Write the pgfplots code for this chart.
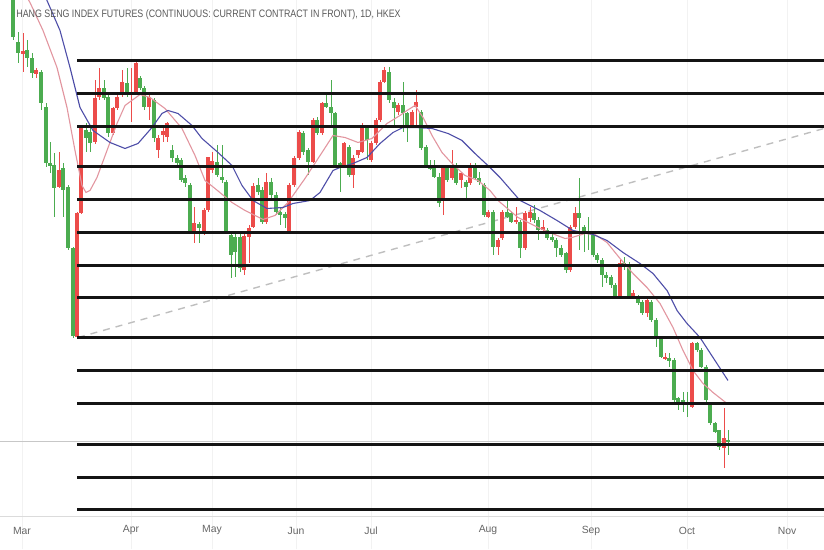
\documentclass[border=0pt]{standalone}
\usepackage{pgfplots}
\pgfplotsset{compat=1.18}
\usepackage{pgfplotstable}
\usepackage{fontspec}
\setmainfont{Liberation Sans}
\definecolor{cup}{RGB}{236,76,74}
\definecolor{cdn}{RGB}{76,172,80}
\definecolor{mapink}{RGB}{226,150,160}
\definecolor{mablue}{RGB}{78,78,168}

% candles in chart pixel units (y grows downward): x open high low close
\pgfplotstableread{
x o h l c
13 -5 -10 40 37
18 42 32 63 53
23 54 33 72 51
27 50 40 67 58
32 58 53 78 73
36 74 68 78 70
41 72 70 110 103
46 107 103 167 163
50 163 142 173 166
54 165 153 217 188
59 187 152 188 170
63 168 163 217 190
68 187 185 250 248
73 248 247 338 336
77 337 212 339 213
81 213 126 214 127
86 130 123 152 138
90 132 127 152 143
95 142 80 144 98
99 97 68 100 88
104 88 80 100 98
108 97 95 137 133
113 133 107 135 108
117 108 93 110 97
122 93 70 97 82
127 83 68 97 95
131 94 68 122 92
136 93 62 94 63
140 78 76 90 88
144 88 86 110 107
149 107 95 120 97
154 100 98 142 138
158 150 135 158 138
163 135 127 142 131
167 137 122 142 123
172 150 145 162 158
177 158 155 167 163
181 160 158 182 180
185 178 175 187 183
190 185 183 234 232
194 233 207 243 223
199 224 222 243 228
204 233 208 235 210
208 210 157 212 157
212 170 152 173 161
217 162 145 177 175
222 177 145 183 180
226 182 180 233 231
231 235 232 278 255
235 237 233 277 252
240 237 233 272 268
244 270 233 275 236
249 237 225 263 228
253 227 183 228 186
258 185 178 195 192
262 190 187 224 222
266 222 173 224 182
271 182 178 198 195
276 195 192 215 212
280 212 208 225 215
285 214 212 228 218
289 232 183 233 185
294 185 156 187 158
299 158 130 160 132
303 133 131 155 152
308 150 148 175 162
313 162 118 163 120
317 120 117 135 133
322 133 102 135 103
326 103 95 108 107
331 107 80 127 113
335 113 112 167 165
340 163 162 192 165
344 165 142 167 143
349 147 145 177 175
353 175 155 188 158
358 155 150 158 150
362 152 123 153 125
367 127 125 160 140
371 160 141 162 143
376 143 118 145 120
380 120 80 122 82
384 82 67 83 70
389 72 67 103 100
394 102 98 127 108
398 112 103 115 105
403 105 82 132 113
407 113 112 142 127
412 125 110 127 112
416 107 90 127 102
421 112 110 150 148
426 147 145 168 167
430 167 160 170 168
434 167 160 178 177
439 177 173 207 203
443 200 165 215 167
447 168 167 182 180
452 178 150 180 165
456 165 163 185 183
461 180 172 188 173
466 182 180 198 187
470 183 163 185 165
475 165 163 180 178
479 178 172 185 182
484 185 183 217 215
488 217 210 218 212
493 212 210 255 247
498 247 238 255 240
502 238 210 240 212
507 212 200 218 217
511 213 212 223 222
516 222 207 224 220
520 222 220 258 248
525 248 211 250 213
530 218 207 222 212
534 213 205 223 220
538 220 217 240 230
543 230 220 232 227
547 230 228 240 238
552 237 233 242 240
556 240 238 257 248
561 248 245 257 255
566 253 252 273 270
570 270 225 272 227
575 227 207 229 213
579 213 178 250 218
584 227 225 252 232
588 232 217 250 234
593 235 232 257 255
597 255 253 263 260
602 260 258 287 275
606 275 272 283 278
611 277 275 288 285
615 285 283 298 297
620 297 260 298 263
624 263 257 270 266
629 265 262 298 297
633 297 290 298 293
638 297 295 305 303
642 302 300 315 313
647 313 298 317 300
651 302 300 322 320
656 320 318 347 337
661 338 337 358 357
665 358 353 360 357
669 358 353 367 361
674 360 358 403 400
678 398 397 410 402
683 400 392 412 403
687 402 392 417 405
692 407 342 408 343
697 343 342 352 350
701 350 348 368 367
706 367 365 403 400
710 403 402 425 423
715 423 422 433 432
719 430 430 450 447
724 448 408 468 438
728 440 430 455 442
}\candles

\pgfplotstableread{
x y
24 -8
30 2
43 30
57 67
67 107
75 150
82 185
86 192
90 190
97 177
107 150
117 123
125 105
140 94
150 97
165 108
182 128
195 155
205 180
215 188
232 202
245 210
263 219
275 215
288 202
305 178
322 152
333 135
345 137
358 142
372 138
387 123
400 115
407 110
415 105
423 117
432 135
442 152
452 163
465 175
478 180
490 190
498 200
518 217
538 227
552 233
565 238
572 237
585 233
595 234
607 242
620 258
633 273
647 287
660 303
673 327
683 350
693 370
703 383
713 392
727 403
}\mapink

\pgfplotstableread{
x y
44 -6
47 0
60 30
70 67
80 107
93 130
110 142
125 148
138 143
152 127
162 113
168 110
178 113
192 125
202 138
218 152
232 165
242 185
253 200
267 208
283 207
293 203
310 200
320 192
333 170
340 167
353 163
367 157
380 143
393 132
403 127
415 127
432 128
448 133
462 140
475 153
490 167
500 177
520 200
540 210
557 220
573 230
593 234
607 240
623 252
640 263
653 273
667 290
677 310
687 323
700 337
713 357
728 380
}\mablue

\begin{document}
\begin{tikzpicture}
\begin{axis}[
  scale only axis, width=412pt, height=274.5pt,
  xmin=0, xmax=824, ymin=-549, ymax=0,
  axis line style={draw=none},
  ytick=\empty,
  xtick={22,131,212,296,371,488,591,687,787},
  xticklabels={Mar,Apr,May,Jun,Jul,Aug,Sep,Oct,Nov},
  major tick length=0pt,
  xmajorgrids, grid style={black!5, line width=0.5pt},
  xticklabel style={anchor=center, yshift=9.5pt, font=\fontsize{5.2}{6}\selectfont, text=black!60},
  clip=true,
]
% faint separators
\addplot[black!14, line width=0.5pt, forget plot] coordinates {(0,-516) (824,-516)};
\addplot[black!22, line width=0.5pt, forget plot] coordinates {(0,-441) (824,-441)};
% trend line
\addplot[black!25, line width=0.7pt, dash pattern=on 3.5pt off 3pt, forget plot] coordinates {(78,-337) (824,-128)};

% wicks
\addplot[draw=none, mark=none, forget plot,
  restrict expr to domain={\thisrow{o}-\thisrow{c}}{0:1000},
  error bars/.cd, y dir=both, y explicit, error mark=none,
  error bar style={line width=0.5pt, cup}]
  table[x=x, y expr={-(\thisrow{h}+\thisrow{l})/2}, y error expr={(\thisrow{l}-\thisrow{h})/2}] {\candles};
\addplot[draw=none, mark=none, forget plot,
  restrict expr to domain={\thisrow{o}-\thisrow{c}}{-1000:-0.001},
  error bars/.cd, y dir=both, y explicit, error mark=none,
  error bar style={line width=0.5pt, cdn}]
  table[x=x, y expr={-(\thisrow{h}+\thisrow{l})/2}, y error expr={(\thisrow{l}-\thisrow{h})/2}] {\candles};
% bodies
\addplot[draw=none, mark=none, forget plot,
  restrict expr to domain={\thisrow{o}-\thisrow{c}}{0:1000},
  error bars/.cd, y dir=both, y explicit, error mark=none,
  error bar style={line width=1.8pt, cup}]
  table[x=x, y expr={-(\thisrow{o}+\thisrow{c})/2}, y error expr={max(abs(\thisrow{o}-\thisrow{c})/2,0.7)}] {\candles};
\addplot[draw=none, mark=none, forget plot,
  restrict expr to domain={\thisrow{o}-\thisrow{c}}{-1000:-0.001},
  error bars/.cd, y dir=both, y explicit, error mark=none,
  error bar style={line width=1.8pt, cdn}]
  table[x=x, y expr={-(\thisrow{o}+\thisrow{c})/2}, y error expr={max(abs(\thisrow{o}-\thisrow{c})/2,0.7)}] {\candles};

% moving averages
\addplot[mapink, line width=0.55pt, forget plot] table[x=x, y expr={-\thisrow{y}}] {\mapink};
\addplot[mablue, line width=0.55pt, forget plot] table[x=x, y expr={-\thisrow{y}}] {\mablue};

% horizontal levels
\pgfplotsinvokeforeach{60,93,126,166,199,232,265,297,337,370,403,444,477,509}{
  \addplot[black!92, line width=1.1pt, forget plot] coordinates {(77,-#1) (824,-#1)};
}

\node[anchor=west, text=black!65, font=\fontsize{5.4}{6.5}\selectfont, inner sep=0pt] at (axis cs:16,-14) {\scalebox{0.82}[1]{HANG SENG INDEX FUTURES (CONTINUOUS: CURRENT CONTRACT IN FRONT), 1D, HKEX}};
\end{axis}
\end{tikzpicture}
\end{document}
